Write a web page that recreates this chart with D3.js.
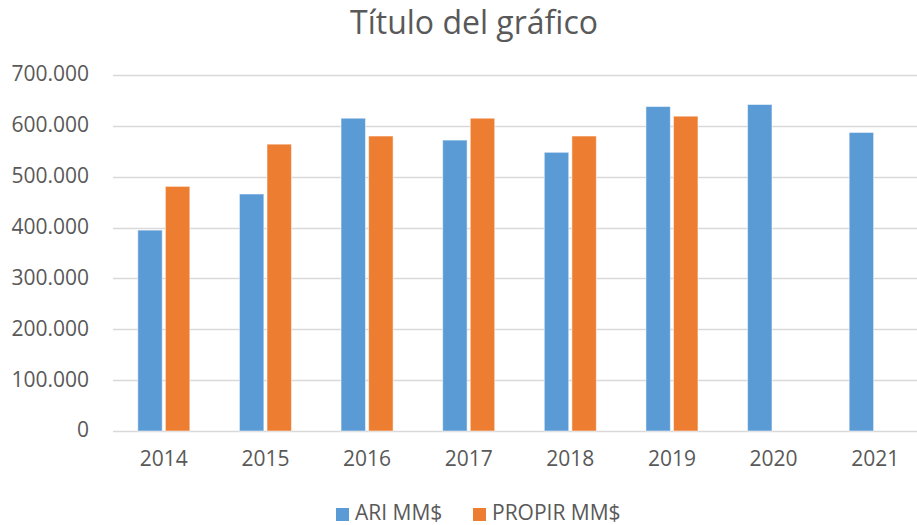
<!DOCTYPE html>
<html>
<head>
<meta charset="utf-8">
<script src="https://cdn.jsdelivr.net/npm/d3@7"></script>
<style>
  body { margin: 0; background: #fff; }
  text { font-family: "Open Sans", "Noto Sans", sans-serif; fill: #595959; }
</style>
</head>
<body>
<script>
// chart data
var years = ["2014", "2015", "2016", "2017", "2018", "2019", "2020", "2021"];
var ari = [395000, 466000, 615000, 572000, 548000, 638000, 642000, 587000];
var propir = [481000, 564000, 580000, 615000, 580000, 619000, null, null];
var seriesNames = ["ARI MM$", "PROPIR MM$"];
var seriesColors = ["#5b9bd5", "#ed7d31"];
var yTicks = [0, 100000, 200000, 300000, 400000, 500000, 600000, 700000];

var width = 917, height = 525;
var margin = { top: 75, right: -9, bottom: 94, left: 113 };
var innerW = width - margin.left - margin.right,
    innerH = height - margin.top - margin.bottom;

var es = d3.formatLocale({ decimal: ",", thousands: ".", grouping: [3], currency: ["$", ""] });
var fmt = es.format(",");

var svg = d3.select("body").append("svg")
    .attr("width", width)
    .attr("height", height);

// title
svg.append("text")
    .attr("x", 474)
    .attr("y", 34)
    .attr("text-anchor", "middle")
    .style("font-size", "32px")
    .text("Título del gráfico");

var g = svg.append("g")
    .attr("transform", "translate(" + margin.left + "," + margin.top + ")");

var x = d3.scaleBand()
    .domain(years)
    .range([0, innerW])
    .paddingInner(0.488)
    .paddingOuter(0.244);

var xSub = d3.scaleBand()
    .domain(seriesNames)
    .range([0, x.bandwidth()])
    .paddingInner(0.115);

var y = d3.scaleLinear()
    .domain([0, 700000])
    .range([innerH, 0]);

// gridlines
g.selectAll("line.grid")
    .data(yTicks)
    .enter().append("line")
    .attr("class", "grid")
    .attr("x1", 0)
    .attr("x2", innerW)
    .attr("y1", function (d) { return Math.round(y(d)) + 0.5; })
    .attr("y2", function (d) { return Math.round(y(d)) + 0.5; })
    .style("stroke", "#d9d9d9")
    .style("stroke-width", 1.3);

// y labels
var yAxis = d3.axisLeft(y).tickValues(yTicks).tickFormat(fmt).tickSize(0).tickPadding(24);
var ya = g.append("g").call(yAxis);
ya.select(".domain").remove();
ya.selectAll("text")
    .style("font-size", "21px")
    .style("font-family", null)
    .attr("fill", null)
    .attr("dy", "0.28em");

// x labels
var xAxis = d3.axisBottom(x).tickSize(0).tickPadding(20);
var xa = g.append("g").attr("transform", "translate(0," + innerH + ")").call(xAxis);
xa.select(".domain").remove();
xa.selectAll("text")
    .style("font-size", "21px")
    .style("font-family", null)
    .attr("fill", null);

// bars
var rows = years.map(function (yr, i) {
    return { year: yr, values: [ari[i], propir[i]] };
});

var groups = g.selectAll("g.year")
    .data(rows)
    .enter().append("g")
    .attr("class", "year")
    .attr("transform", function (d) { return "translate(" + x(d.year) + ",0)"; });

groups.selectAll("rect")
    .data(function (d) {
        return d.values.map(function (v, j) { return { name: seriesNames[j], value: v, color: seriesColors[j] }; })
            .filter(function (e) { return e.value != null; });
    })
    .enter().append("rect")
    .attr("x", function (d) { return xSub(d.name); })
    .attr("width", xSub.bandwidth())
    .attr("y", function (d) { return y(d.value); })
    .attr("height", function (d) { return innerH - y(d.value); })
    .style("fill", function (d) { return d.color; })
    .style("stroke", "#fff")
    .style("stroke-opacity", 0.5)
    .style("stroke-width", 1);

// legend
var legend = svg.append("g").attr("transform", "translate(336,505)");
var lx = [0, 137];
seriesNames.forEach(function (name, i) {
    var it = legend.append("g").attr("transform", "translate(" + lx[i] + ",0)");
    it.append("rect")
        .attr("width", 13)
        .attr("height", 13)
        .attr("y", 3)
        .style("fill", seriesColors[i]);
    it.append("text")
        .attr("x", 19)
        .attr("y", 15)
        .style("font-size", "21px")
        .text(name);
});
</script>
</body>
</html>
